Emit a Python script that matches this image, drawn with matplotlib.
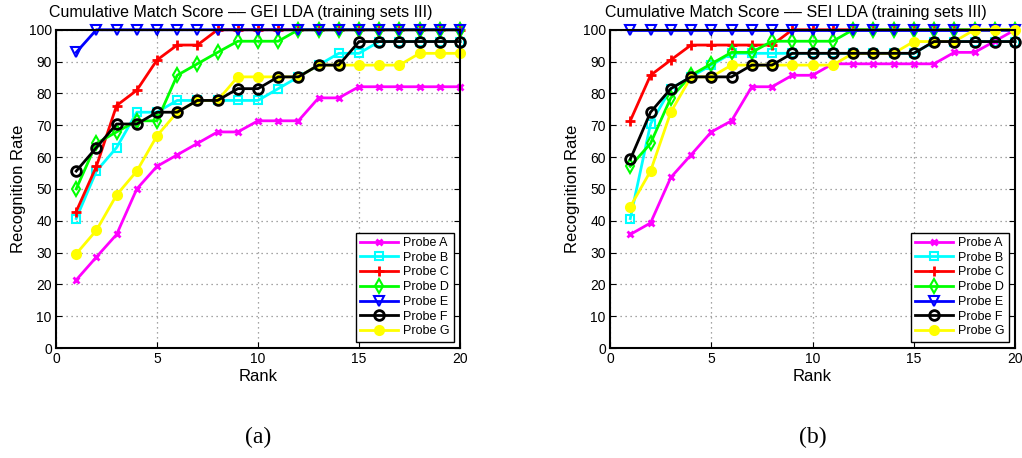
import matplotlib
matplotlib.use("Agg")
import matplotlib.pyplot as plt

ranks = list(range(1, 21))
labels = ["Probe A", "Probe B", "Probe C", "Probe D", "Probe E", "Probe F", "Probe G"]

# GEI LDA (a)
gei_A = [21.4, 28.6, 35.7, 50.0, 57.1, 60.7, 64.3, 67.9, 67.9, 71.4, 71.4, 71.4, 78.6, 78.6, 82.1, 82.1, 82.1, 82.1, 82.1, 82.1]
gei_B = [40.7, 55.6, 63.0, 74.1, 74.1, 77.8, 77.8, 77.8, 77.8, 77.8, 81.5, 85.2, 88.9, 92.6, 92.6, 96.3, 96.3, 96.3, 96.3, 96.3]
gei_C = [42.9, 57.1, 76.2, 81.0, 90.5, 95.2, 95.2, 100, 100, 100, 100, 100, 100, 100, 100, 100, 100, 100, 100, 100]
gei_D = [50.0, 64.3, 67.9, 71.4, 71.4, 85.7, 89.3, 92.9, 96.4, 96.4, 96.4, 100, 100, 100, 100, 100, 100, 100, 100, 100]
gei_E = [92.9, 100, 100, 100, 100, 100, 100, 100, 100, 100, 100, 100, 100, 100, 100, 100, 100, 100, 100, 100]
gei_F = [55.6, 63.0, 70.4, 70.4, 74.1, 74.1, 77.8, 77.8, 81.5, 81.5, 85.2, 85.2, 88.9, 88.9, 96.3, 96.3, 96.3, 96.3, 96.3, 96.3]
gei_G = [29.6, 37.0, 48.1, 55.6, 66.7, 74.1, 77.8, 77.8, 85.2, 85.2, 85.2, 85.2, 88.9, 88.9, 88.9, 88.9, 88.9, 92.6, 92.6, 92.6]

# SEI LDA (b)
sei_A = [35.7, 39.3, 53.6, 60.7, 67.9, 71.4, 82.1, 82.1, 85.7, 85.7, 89.3, 89.3, 89.3, 89.3, 89.3, 89.3, 92.9, 92.9, 96.4, 100]
sei_B = [40.7, 70.4, 81.5, 85.2, 88.9, 92.6, 92.6, 92.6, 92.6, 92.6, 92.6, 92.6, 92.6, 92.6, 92.6, 96.3, 96.3, 96.3, 96.3, 96.3]
sei_C = [71.4, 85.7, 90.5, 95.2, 95.2, 95.2, 95.2, 95.2, 100, 100, 100, 100, 100, 100, 100, 100, 100, 100, 100, 100]
sei_D = [57.1, 64.3, 78.6, 85.7, 89.3, 92.9, 92.9, 96.4, 96.4, 96.4, 96.4, 100, 100, 100, 100, 100, 100, 100, 100, 100]
sei_E = [100] * 20
sei_F = [59.3, 74.1, 81.5, 85.2, 85.2, 85.2, 88.9, 88.9, 92.6, 92.6, 92.6, 92.6, 92.6, 92.6, 92.6, 96.3, 96.3, 96.3, 96.3, 96.3]
sei_G = [44.4, 55.6, 74.1, 85.2, 85.2, 88.9, 88.9, 88.9, 88.9, 88.9, 88.9, 92.6, 92.6, 92.6, 96.3, 96.3, 96.3, 100, 100, 100]

titles = ["Cumulative Match Score –– GEI LDA (training sets III)",
          "Cumulative Match Score –– SEI LDA (training sets III)"]
captions = ["(a)", "(b)"]
xticks = [0, 5, 10, 15, 20]
yticks = [0, 10, 20, 30, 40, 50, 60, 70, 80, 90, 100]

plt.rcParams['font.family'] = ['Liberation Sans', 'DejaVu Sans']

styles = [
    dict(color='#ff00ff', marker='x', ms=5, mew=2.0),
    dict(color='#00ffff', marker='s', ms=5.5, mew=1.5, mfc='none'),
    dict(color='#ff0000', marker='+', ms=7, mew=2.0),
    dict(color='#00ff00', marker='d', ms=7.5, mew=1.5, mfc='none'),
    dict(color='#0000ff', marker='v', ms=7.5, mew=1.5, mfc='none'),
    dict(color='#000000', marker='o', ms=7, mew=2.0, mfc='none'),
    dict(color='#ffff00', marker='o', ms=6.5, mew=1.5, mfc='#ffff00'),
]
zorders = [2, 2.1, 2.2, 2.3, 2.4, 2.6, 2.5]

fig = plt.figure(figsize=(10.22, 4.58), dpi=100)
axes_pos = [[0.0548, 0.240, 0.3953, 0.695], [0.5969, 0.240, 0.3963, 0.695]]
datasets = [[gei_A, gei_B, gei_C, gei_D, gei_E, gei_F, gei_G],
            [sei_A, sei_B, sei_C, sei_D, sei_E, sei_F, sei_G]]

for k in range(2):
    ax = fig.add_axes(axes_pos[k])
    for i, series in enumerate(datasets[k]):
        ax.plot(ranks, series, lw=2.0, label=labels[i], zorder=zorders[i],
                clip_on=False, **styles[i])
    ax.set_xlim(0, 20)
    ax.set_ylim(0, 100)
    ax.set_xticks(xticks)
    ax.set_yticks(yticks)
    ax.tick_params(direction='in', top=True, right=True, length=4, width=0.8,
                   labelsize=10, pad=3)
    ax.grid(True, linestyle=(0, (1, 3)), color='#888888', linewidth=0.9)
    for s in ax.spines.values():
        s.set_linewidth(1.5)
        s.set_zorder(5)
    ax.set_title(titles[k], fontsize=11.5, pad=9, x=0.458)
    ax.set_xlabel("Rank", fontsize=12, labelpad=2)
    ax.set_ylabel("Recognition Rate", fontsize=12, labelpad=2)
    leg = ax.legend(loc='lower right', fontsize=9, handlelength=3.0,
                    handletextpad=0.4, labelspacing=0.22, borderpad=0.35,
                    borderaxespad=0.5, fancybox=False, framealpha=1)
    leg.get_frame().set_edgecolor('black')
    leg.get_frame().set_linewidth(1.0)
    leg.set_zorder(10)
    cx = axes_pos[k][0] + axes_pos[k][2] / 2
    fig.text(cx, 0.045, captions[k], ha='center', va='center', fontsize=17,
             family='Liberation Serif')

fig.savefig("out.png", dpi=100)
